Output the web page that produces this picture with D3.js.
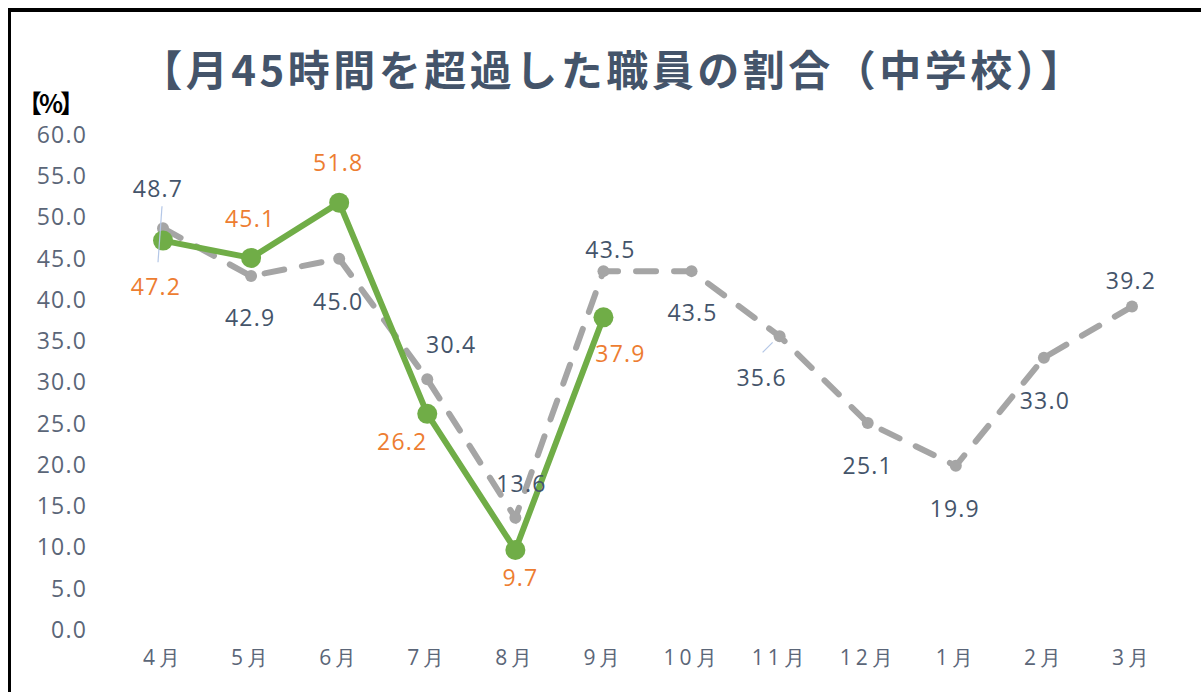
<!DOCTYPE html>
<html>
<head>
<meta charset="utf-8">
<script src="https://cdn.jsdelivr.net/npm/d3@7"></script>
<style>
  body { margin: 0; background: #fff; }
  svg { display: block; }
  .tick text { font-family: "Open Sans", sans-serif; }
</style>
</head>
<body>
<div id="chart"></div>
<script>
// data
var months = ["4月", "5月", "6月", "7月", "8月", "9月", "10月", "11月", "12月", "1月", "2月", "3月"];
var lastYear = [48.7, 42.9, 45.0, 30.4, 13.6, 43.5, 43.5, 35.6, 25.1, 19.9, 33.0, 39.2];
var thisYear = [47.2, 45.1, 51.8, 26.2, 9.7, 37.9];
var yTicks = [0, 5, 10, 15, 20, 25, 30, 35, 40, 45, 50, 55, 60];

// label placement (offset from point, px)
var grayLabelOffsets = [[-5, -40], [-1, 41], [-1, 42], [24, -35], [6, -35], [7, -22],
                        [1, 41], [-18, 41], [0, 42], [-1, 42], [1, 42], [-1, -27]];
var greenLabelOffsets = [[-7, 45], [-1, -40], [-1, -41], [-25, 27], [5, 27], [17, 36]];

var W = 1201, H = 692;

var svg = d3.select("#chart").append("svg")
    .attr("width", W)
    .attr("height", H);

// frame (top and left edges)
svg.append("rect").attr("x", 8).attr("y", 8).attr("width", W - 8).attr("height", 4).attr("fill", "#000");
svg.append("rect").attr("x", 8).attr("y", 8).attr("width", 3).attr("height", H - 8).attr("fill", "#000");

var x = d3.scalePoint().domain(months).range([163, 1132]);
var y = d3.scaleLinear().domain([0, 60]).range([630, 135]);

// title
svg.append("text")
    .attr("x", 613)
    .attr("y", 67)
    .attr("text-anchor", "middle")
    .attr("dominant-baseline", "central")
    .attr("font-family", "'Noto Sans CJK JP', sans-serif")
    .attr("font-weight", "bold")
    .attr("font-size", "42px")
    .attr("letter-spacing", "3.5px")
    .attr("fill", "#44546a")
    .text("【月45時間を超過した職員の割合（中学校）】");

svg.append("text")
    .attr("x", 17)
    .attr("y", 102)
    .attr("dominant-baseline", "central")
    .attr("font-family", "'Noto Sans CJK JP', sans-serif")
    .attr("font-weight", "bold")
    .attr("font-size", "25px")
    .attr("letter-spacing", "-3px")
    .attr("fill", "#000")
    .text("【%】");

// axes
var yAxis = svg.append("g")
    .attr("transform", "translate(93,0)")
    .call(d3.axisLeft(y).tickValues(yTicks).tickFormat(d3.format(".1f")).tickSize(0).tickPadding(6));
yAxis.select(".domain").remove();
yAxis.selectAll("text")
    .attr("font-size", "23px")
    .attr("letter-spacing", "1.2px")
    .attr("fill", "#5b6678");

var xAxis = svg.append("g")
    .attr("transform", "translate(0,630)")
    .call(d3.axisBottom(x).tickSize(0).tickPadding(20));
xAxis.select(".domain").remove();
xAxis.selectAll("text")
    .attr("font-family", "'Noto Sans CJK JP', sans-serif")
    .attr("font-size", "21px")
    .attr("letter-spacing", "4px")
    .attr("fill", "#5b6678");

var line = d3.line()
    .x(function(d, i) { return x(months[i]); })
    .y(function(d) { return y(d); });

// gray dashed series
svg.append("path")
    .datum(lastYear)
    .attr("d", line)
    .attr("fill", "none")
    .attr("stroke", "#a5a5a5")
    .attr("stroke-width", 6)
    .attr("stroke-linecap", "round")
    .attr("stroke-dasharray", "20,18");

svg.selectAll(".gdot").data(lastYear).enter()
    .append("circle")
    .attr("class", "gdot")
    .attr("cx", function(d, i) { return x(months[i]); })
    .attr("cy", function(d) { return y(d); })
    .attr("r", 6)
    .attr("fill", "#a5a5a5");

// green series
svg.append("path")
    .datum(thisYear)
    .attr("d", line)
    .attr("fill", "none")
    .attr("stroke", "#70ad47")
    .attr("stroke-width", 6)
    .attr("stroke-linejoin", "round");

svg.selectAll(".vdot").data(thisYear).enter()
    .append("circle")
    .attr("class", "vdot")
    .attr("cx", function(d, i) { return x(months[i]); })
    .attr("cy", function(d) { return y(d); })
    .attr("r", 10)
    .attr("fill", "#70ad47");

// leader lines
svg.append("line")
    .attr("x1", x(months[0]) - 1).attr("y1", y(lastYear[0]) - 22)
    .attr("x2", x(months[0]) - 5).attr("y2", y(lastYear[0]) + 34)
    .attr("stroke", "#b4c7e7").attr("stroke-width", 1.2);
svg.append("line")
    .attr("x1", x(months[7]) - 7).attr("y1", y(lastYear[7]) + 6)
    .attr("x2", x(months[7]) - 17).attr("y2", y(lastYear[7]) + 16)
    .attr("stroke", "#b4c7e7").attr("stroke-width", 1.2);

// data labels
function labels(data, offsets, color) {
    svg.append("g").selectAll("text").data(data).enter()
        .append("text")
        .attr("x", function(d, i) { return x(months[i]) + offsets[i][0]; })
        .attr("y", function(d, i) { return y(d) + offsets[i][1]; })
        .attr("text-anchor", "middle")
        .attr("dominant-baseline", "central")
        .attr("font-family", "'Open Sans', sans-serif")
        .attr("font-size", "23px")
        .attr("letter-spacing", "1.2px")
        .attr("fill", color)
        .text(function(d) { return d.toFixed(1); });
}
labels(lastYear, grayLabelOffsets, "#44546a");
labels(thisYear, greenLabelOffsets, "#ed7d31");
</script>
</body>
</html>
